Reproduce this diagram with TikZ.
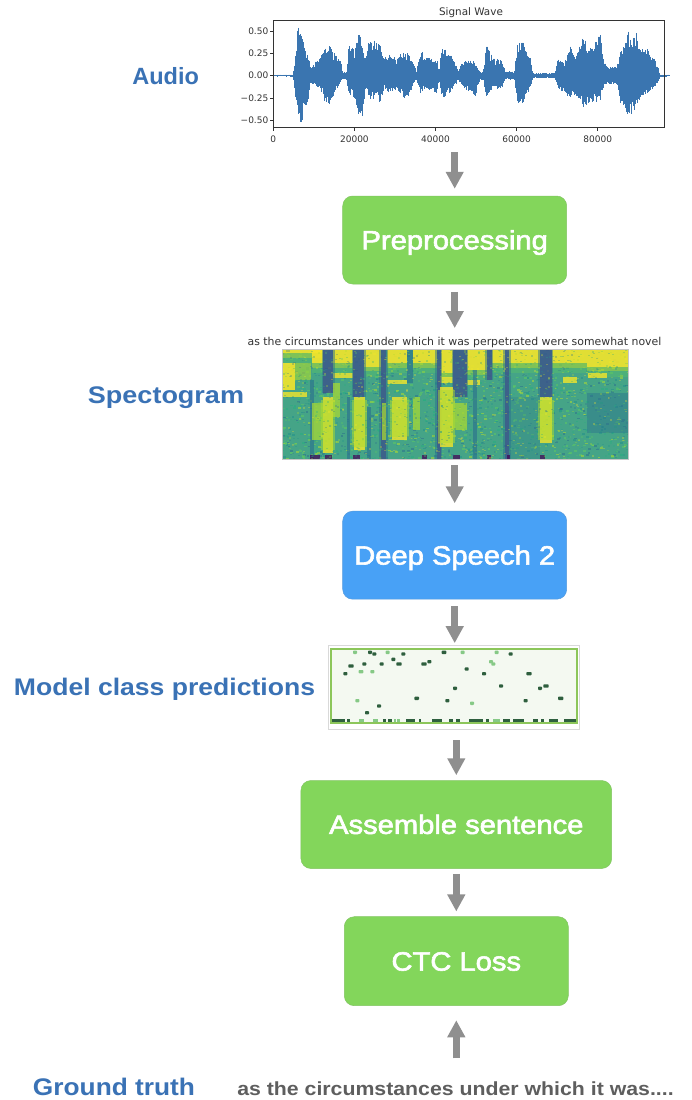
\documentclass[tikz,border=0pt]{standalone}
\usepackage{fontspec}
\setmainfont{Liberation Sans}
\newfontfamily\dejavu{DejaVu Sans}
\newfontfamily\boxfont[FakeBold=2.2]{Liberation Sans}
\usetikzlibrary{arrows.meta}
\definecolor{boxgreen}{HTML}{83D65B}
\definecolor{boxblue}{HTML}{48A1F6}
\definecolor{lblue}{HTML}{3A72B5}
\definecolor{arrgray}{HTML}{8F8F8F}
\definecolor{wavecol}{HTML}{3A75B0}
\definecolor{gtext}{HTML}{5E5E5E}
\definecolor{axcol}{HTML}{333333}
\definecolor{specbase}{HTML}{45A487}
\definecolor{vA}{HTML}{440154}
\definecolor{vB}{HTML}{3B528B}
\definecolor{vC}{HTML}{2C728E}
\definecolor{vD}{HTML}{21918C}
\definecolor{vE}{HTML}{28AE80}
\definecolor{vF}{HTML}{5EC962}
\definecolor{vG}{HTML}{ADDC30}
\definecolor{vH}{HTML}{F3E52B}
\definecolor{pdark}{HTML}{2E5F3E}
\definecolor{plight}{HTML}{86C986}
\definecolor{pframe}{HTML}{8CC65A}
\definecolor{pbg}{HTML}{F4F9F1}
\newcommand\hstretch[2]{\scalebox{#1}[1]{#2}}
\begin{document}
\begin{tikzpicture}[x=1pt,y=-1pt,
  flowbox/.style={rounded corners=10pt, minimum width=224pt, minimum height=88pt, inner sep=0pt,
    text height=18.8pt, text depth=0pt, text=white, font=\boxfont\fontsize{26.5}{28}\selectfont,
    fill=#1, draw=#1!80!gray, line width=0.5pt},
  sidelabel/.style={anchor=base, text=lblue, inner sep=0pt, font=\fontsize{24}{26}\selectfont\bfseries},
  flowarrow/.style={draw=arrgray, line width=7pt, -{Triangle[width=17pt,length=17pt]}},
  ticklab/.style={inner sep=0pt, text=axcol, font=\dejavu\fontsize{9}{10}\selectfont},
  hole/.style={inner sep=0pt, draw=none},
]
\useasboundingbox (0,0) rectangle (691,1100);
\fill[white] (0,0) rectangle (691,1100);

% ---------------- signal wave plot ----------------
\node[hole, minimum width=392pt, minimum height=145pt] (wave) at (468,72.5) {};
\begin{scope}[x=0.33333pt, xshift=240pt]
  \pgfmathsetseed{11}
  \foreach \zx/\pa/\na [remember=\zx as \lx (initially 100), remember=\pa as \lpa (initially 0.01), remember=\na as \lna (initially 0.01)] in
   {160/0.01/0.01, 168/0.3/0.3, 175/0.57/0.5, 182/0.5/0.55, 195/0.3/0.4, 205/0.25/0.3, 212/0.08/0.08,
    225/0.15/0.12, 240/0.2/0.15, 255/0.35/0.3, 268/0.35/0.35, 285/0.25/0.2, 300/0.2/0.1, 310/0.04/0.04,
    320/0.05/0.05, 325/0.35/0.2, 345/0.3/0.25, 358/0.5/0.5, 370/0.3/0.45, 378/0.2/0.1, 385/0.4/0.25,
    420/0.4/0.3, 435/0.2/0.15, 445/0.25/0.2, 470/0.2/0.15, 490/0.28/0.25, 505/0.25/0.28, 520/0.15/0.1,
    530/0.05/0.05, 540/0.3/0.2, 560/0.2/0.15, 590/0.2/0.2, 598/0.05/0.05, 605/0.3/0.25, 615/0.3/0.25,
    640/0.2/0.15, 655/0.05/0.05, 665/0.15/0.12, 690/0.2/0.2, 705/0.15/0.25, 720/0.05/0.05, 730/0.05/0.05,
    740/0.37/0.25, 760/0.2/0.15, 785/0.18/0.15, 795/0.05/0.04, 825/0.05/0.05, 832/0.38/0.35, 850/0.38/0.3,
    870/0.2/0.15, 880/0.03/0.03, 945/0.03/0.03, 955/0.2/0.15, 975/0.15/0.2, 990/0.35/0.25, 1010/0.25/0.25,
    1030/0.45/0.37, 1050/0.3/0.3, 1080/0.5/0.3, 1090/0.2/0.15, 1100/0.1/0.1, 1130/0.1/0.1, 1145/0.3/0.35,
    1165/0.52/0.45, 1175/0.4/0.47, 1190/0.5/0.35, 1200/0.3/0.25, 1225/0.3/0.2, 1250/0.15/0.1,
    1260/0.01/0.01, 1289/0.01/0.01}{
    \pgfmathsetmacro\nx{\lx+1.4}
    \foreach \k in {\lx,\nx,...,\zx}{
      \pgfmathsetmacro\fr{(\k-\lx)/(\zx-\lx)}
      \pgfmathsetmacro\ya{75.7-88.4*(\lpa+\fr*(\pa-\lpa))*(0.6+0.4*rnd)}
      \pgfmathsetmacro\yb{75.7+88.4*(\lna+\fr*(\na-\lna))*(0.6+0.4*rnd)}
      \draw[wavecol, line width=0.9pt] (\k,\ya) -- (\k,\yb);
    }
  }
\end{scope}
\draw[wavecol, line width=1.4pt] (273.5,75.7) -- (663.5,75.7);
\draw[axcol, line width=0.7pt] (273.3,20) rectangle (664,127);
\node[anchor=base, inner sep=0pt, text=axcol, font=\dejavu\fontsize{10.4}{12}\selectfont] (wtitle) at (471,15) {Signal Wave};
\foreach \v/\t [count=\i] in {0.5/0.50, 0.25/0.25, 0/0.00, -0.25/{−0.25}, -0.5/{−0.50}}{
  \draw[axcol, line width=0.6pt] (273.3,{75.7-88.4*\v}) -- (270,{75.7-88.4*\v});
  \node[ticklab, anchor=east] (ytick\i) at (268.5,{75.7-88.4*\v}) {\t};
}
\foreach \t [count=\i from 0] in {0,20000,40000,60000,80000}{
  \draw[axcol, line width=0.6pt] ({273.3+81.1*\i},127) -- ({273.3+81.1*\i},130.5);
  \node[ticklab, anchor=base] (xtick\i) at ({273.3+81.1*\i},142) {\t};
}

% ---------------- spectrogram ----------------
\node[hole, minimum width=408pt, minimum height=126pt] (spec) at (454,396) {};
\node[anchor=base, inner sep=0pt, text=axcol, font=\dejavu\fontsize{10.9}{12}\selectfont] (stitle) at (454.5,345)
  {as the circumstances under which it was perpetrated were somewhat novel};
\begin{scope}[x=0.33333pt, y=-0.33333pt, xshift=240pt, yshift=-330pt]
  \begin{scope}
    \clip (128,58) rectangle (1165,387);
    \fill[specbase] (128,58) rectangle (1165,387);
    \pgfmathsetseed{5}
    \foreach \i in {1,...,1100}{
      \pgfmathsetmacro\rx{120+1045*rnd}
      \pgfmathsetmacro\ry{55+332*rnd}
      \pgfmathtruncatemacro\rc{6*rnd}
      \ifcase\rc \def\cc{vC}\or\def\cc{vD}\or\def\cc{vE}\or\def\cc{vF}\or\def\cc{vG}\or\def\cc{vF}\else\def\cc{vD}\fi
      \fill[\cc, opacity=0.55] (\rx,\ry) rectangle ++(8,5);
    }
    % lower right bluish area
    \fill[vC, opacity=0.45] (1040,190) rectangle (1165,310);
    \fill[vC, opacity=0.25] (808,200) rectangle (900,387);
    % top yellow bands
    \foreach \a/\b/\c in {128/250/70, 215/250/100, 280/340/100, 372/422/110, 440/500/100, 518/590/100,
                          602/640/130, 680/740/120, 755/795/100, 808/900/100, 935/1040/100, 1040/1165/110}{
      \fill[vH, opacity=0.9] (\a,58) rectangle (\b,\c);
      \fill[vG, opacity=0.55] (\a,\c) rectangle (\b,\c+14);
      \fill[vF, opacity=0.35] (\a,\c+14) rectangle (\b,\c+30);
    }
    \fill[vH, opacity=0.9] (128,100) rectangle (165,180);
    \fill[vG, opacity=0.6] (165,100) rectangle (212,150);
    \foreach \a/\b/\c/\d in {280/340/130/145, 440/500/150/162, 600/640/140/160, 1045/1100/130/145,
                             970/1010/140/160, 680/720/150/165, 128/200/185/200}{
      \fill[vH, opacity=0.8] (\a,\c) rectangle (\b,\d);
    }
    % dark stripes
    \foreach \a/\b/\c/\d in {250/280/58/190, 340/372/58/200, 423/438/58/387, 590/602/58/387,
                             640/680/58/200, 740/755/58/150, 795/808/58/387, 900/935/58/200}{
      \fill[vB, opacity=0.8] (\a,\c) rectangle (\b,\d);
      \fill[vC, opacity=0.5] (\a-5,\c) rectangle (\a,\d);
      \fill[vC, opacity=0.5] (\b,\c) rectangle (\b+5,\d);
    }
    \foreach \a/\b/\c/\d in {500/518/58/160, 320/330/200/387, 700/712/120/387, 210/222/150/387, 380/392/230/387}{
      \fill[vC, opacity=0.65] (\a,\c) rectangle (\b,\d);
    }
    % yellow lower patches
    \foreach \a/\b/\c/\d in {248/280/200/370, 342/375/200/360, 455/500/200/330, 600/640/170/350,
                             900/935/200/340}{
      \fill[vH, opacity=0.8] (\a,\c) rectangle (\b,\d);
      \fill[vG, opacity=0.5] (\a-6,\c+10) rectangle (\b+6,\d-10);
    }
    \foreach \a/\b/\c/\d in {425/438/220/330, 640/680/220/300, 215/248/220/330, 520/540/200/300,
                             280/300/160/260}{
      \fill[vG, opacity=0.7] (\a,\c) rectangle (\b,\d);
    }
    % bottom dark bits
    \foreach \a/\b in {210/240, 255/275, 340/360, 545/560, 740/752, 800/810, 900/915, 640/660}{
      \fill[vA, opacity=0.7] (\a,374) rectangle (\b,387);
    }
    % texture over everything
    \pgfmathsetseed{9}
    \foreach \i in {1,...,1400}{
      \pgfmathsetmacro\rx{120+1045*rnd}
      \pgfmathsetmacro\ry{55+332*rnd}
      \pgfmathtruncatemacro\rc{6*rnd}
      \ifcase\rc \def\cc{vC}\or\def\cc{vD}\or\def\cc{vE}\or\def\cc{vF}\or\def\cc{vG}\or\def\cc{vH}\else\def\cc{vE}\fi
      \fill[\cc, opacity=0.3] (\rx,\ry) rectangle ++(6,4);
    }
  \end{scope}
  \draw[gray!45, line width=0.4pt] (128,58) rectangle (1165,387);
\end{scope}

% ---------------- class predictions ----------------
\node[hole, minimum width=251pt, minimum height=84.3pt] (pred) at (453.8,687.2) {};
\begin{scope}[x=0.33333pt, y=-0.33333pt, xshift=320pt, yshift=-640pt]
  \fill[white] (25,15) rectangle (778,268);
  \draw[gray!30, line width=0.5pt] (25,15) rectangle (778,268);
  \fill[pbg] (33,27) rectangle (770,250);
  \foreach \x/\y/\w in {150/37/12, 163/42/12, 250/42/12, 372/37/14, 572/42/12, 220/58/12, 93/78/16,
                        133/72/12, 185/72/12, 237/72/16, 312/72/16, 328/65/12, 440/87/12, 76/101/12,
                        492/101/12, 627/101/16, 543/138/12, 405/145/12, 660/145/12, 678/138/16,
                        290/175/14, 382/182/12, 617/182/12, 722/175/16, 177/198/12, 141/218/12}{
    \fill[pdark, rounded corners=0.8pt] ({\x-\w/2},{\y-5}) rectangle ({\x+\w/2},{\y+5});
  }
  \foreach \x/\y/\w in {105/37/12, 203/37/12, 428/37/12, 530/37/12, 513/65/12, 520/72/12, 123/95/14,
                        157/95/12, 112/182/12, 456/190/12}{
    \fill[plight, rounded corners=0.8pt] ({\x-\w/2},{\y-5}) rectangle ({\x+\w/2},{\y+5});
  }
  \foreach \a/\b in {35/75, 82/90, 188/198, 204/216, 258/285, 296/304, 335/365, 388/400, 408/420,
                     448/490, 498/506, 548/570, 578/612, 640/655, 664/671, 688/715, 733/768}{
    \fill[pdark] (\a,237) rectangle (\b,247);
  }
  \foreach \a/\b in {117/131, 159/173, 221/229, 231/241, 520/540}{
    \fill[plight] (\a,237) rectangle (\b,247);
  }
  \draw[pframe, line width=2pt] (33,27) rectangle (770,250);
\end{scope}

% ---------------- flow boxes ----------------
\node[flowbox=boxgreen] (prep) at (454.7,240) {\hstretch{1.1}{Preprocessing}};
\node[flowbox=boxblue] (ds) at (454.7,555.2) {\hstretch{1.1}{Deep Speech 2}};
\node[flowbox=boxgreen, minimum width=310.7pt] (asm) at (456.3,824.5) {\hstretch{1.1}{Assemble sentence}};
\node[flowbox=boxgreen, minimum height=89pt] (ctc) at (456.3,961.2) {\hstretch{1.1}{CTC Loss}};

% ---------------- side labels ----------------
\node[sidelabel, font=\fontsize{23.5}{25}\selectfont\bfseries] (laudio) at (165.7,84) {Audio};
\node[sidelabel] (lspec) at (166,403.3) {\hstretch{1.125}{Spectogram}};
\node[sidelabel] (lpred) at (164.5,695.7) {\hstretch{1.107}{Model class predictions}};
\node[sidelabel] (lgt) at (114,1095) {\hstretch{1.095}{Ground truth}};
\node[anchor=base, inner sep=0pt, text height=14pt, text=gtext, font=\fontsize{19}{21}\selectfont\bfseries] (gt)
  at (455.5,1095) {\hstretch{1.12}{as the circumstances under which it was....}};

% ---------------- arrows ----------------
\draw[flowarrow, shorten <=7pt, shorten >=7pt] (wave.south -| prep.north) -- (prep.north);
\draw[flowarrow, shorten <=7.7pt, shorten >=4.7pt] (prep.south) -- (spec.north -| prep.south);
\draw[flowarrow, shorten <=6pt, shorten >=7.7pt] (spec.south -| ds.north) -- (ds.north);
\draw[flowarrow, shorten <=6.7pt, shorten >=1.7pt] (ds.south) -- (pred.north -| ds.south);
\draw[flowarrow, shorten <=10.7pt, shorten >=5pt] (pred.south -| asm.north) -- (asm.north);
\draw[flowarrow, shorten <=5pt, shorten >=5pt] (asm.south) -- (ctc.north);
\draw[flowarrow, shorten <=22.5pt, shorten >=14.3pt] (gt.north -| ctc.south) -- (ctc.south);
\end{tikzpicture}
\end{document}
